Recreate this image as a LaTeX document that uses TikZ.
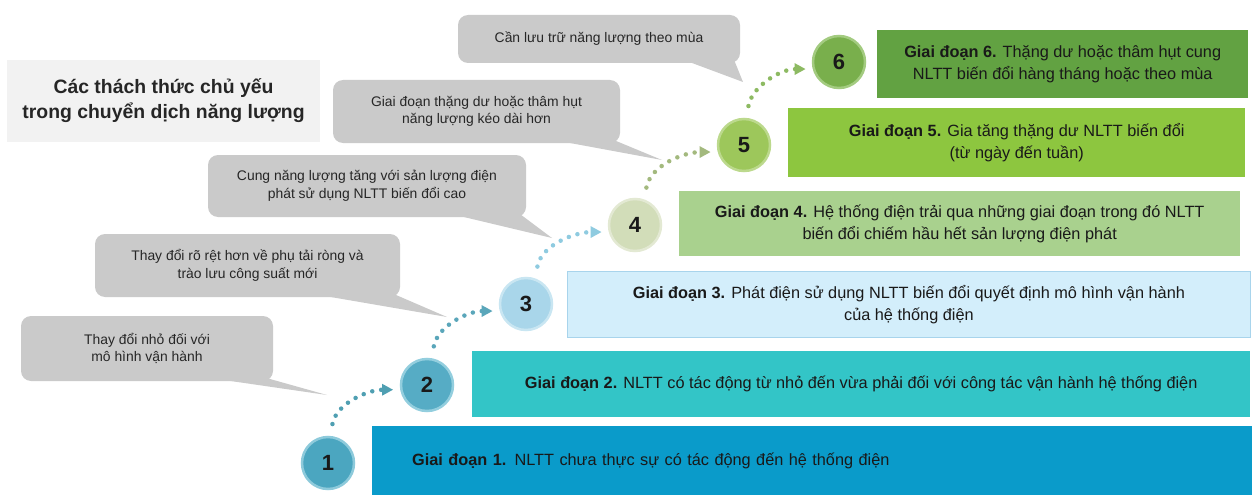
\documentclass[tikz,border=0pt]{standalone}
\usepackage{fontspec}
\setmainfont{Liberation Sans}
\usetikzlibrary{positioning,arrows.meta}

\definecolor{calloutgray}{HTML}{CACACA}
\definecolor{titlegray}{HTML}{F2F2F2}
\definecolor{stageone}{HTML}{0A9BCA}
\definecolor{stagetwo}{HTML}{33C5C7}
\definecolor{stagethree}{HTML}{D3EEFB}
\definecolor{stagethreeline}{HTML}{A8D4EC}
\definecolor{stagefour}{HTML}{A9D18E}
\definecolor{stagefive}{HTML}{8DC63F}
\definecolor{stagesix}{HTML}{62A242}
\definecolor{numone}{HTML}{4BA6C0}   \definecolor{ringone}{HTML}{8DCADB}
\definecolor{numtwo}{HTML}{56ACC5}   \definecolor{ringtwo}{HTML}{93CEDE}
\definecolor{numthree}{HTML}{A9D6EA} \definecolor{ringthree}{HTML}{C9E6F2}
\definecolor{numfour}{HTML}{D2DDB9}  \definecolor{ringfour}{HTML}{E3E9D3}
\definecolor{numfive}{HTML}{9DC75B}  \definecolor{ringfive}{HTML}{BCD98D}
\definecolor{numsix}{HTML}{79AF4C}   \definecolor{ringsix}{HTML}{A3CB80}
\definecolor{dotone}{HTML}{4F9FB2}
\definecolor{dottwo}{HTML}{5AA6BA}
\definecolor{dotthree}{HTML}{8FCBE0}
\definecolor{dotfour}{HTML}{A3B97E}
\definecolor{dotfive}{HTML}{8DBA62}

\tikzset{
  bar/.style={anchor=north west, inner sep=0pt, align=center, text=black!90,
              font=\fontsize{16.3}{22}\selectfont},
  callout/.style={fill=calloutgray, rounded corners=10pt, align=center, inner sep=0pt,
                  text=black!85, font=\fontsize{13.9}{17.5}\selectfont},
  num/.style={circle, draw, minimum size=52pt, line width=2.5pt, inner sep=0pt,
              text=black!90, font=\fontsize{22}{22}\selectfont\bfseries},
  dotarrow/.style={line width=4.5pt, line cap=round, dash pattern=on 0pt off 9pt,
                   shorten <=12pt, shorten >=7pt, -{Triangle[length=11pt,width=11pt]}},
}

\begin{document}
\begin{tikzpicture}[x=1pt, y=-1pt]
  \useasboundingbox (0,0) rectangle (1256,495);

  \node[fill=titlegray, minimum width=313pt, minimum height=82pt, align=center,
        font=\fontsize{19.4}{25}\selectfont\bfseries, text=black!85] (title) at (163.5,101)
        {Các thách thức chủ yếu\\trong chuyển dịch năng lượng};

  \node[bar, fill=stageone, minimum width=880pt, minimum height=69pt, text width=800pt, align=left]
        (s1) at (372,426) {\textbf{Giai đoạn 1.} NLTT chưa thực sự có tác động đến hệ thống điện};
  \node[bar, fill=stagetwo, minimum width=778pt, minimum height=66pt] (s2) at (472,351)
        {\textbf{Giai đoạn 2.} NLTT có tác động từ nhỏ đến vừa phải đối với công tác vận hành hệ thống điện};
  \node[bar, fill=stagethree, draw=stagethreeline, line width=0.8pt, minimum width=683pt, minimum height=66pt]
        (s3) at (567,271) {\textbf{Giai đoạn 3.} Phát điện sử dụng NLTT biến đổi quyết định mô hình vận hành\\của hệ thống điện};
  \node[bar, fill=stagefour, minimum width=561pt, minimum height=65pt] (s4) at (679,191)
        {\textbf{Giai đoạn 4.} Hệ thống điện trải qua những giai đoạn trong đó NLTT\\biến đổi chiếm hầu hết sản lượng điện phát};
  \node[bar, fill=stagefive, minimum width=457pt, minimum height=69pt] (s5) at (788,108)
        {\textbf{Giai đoạn 5.} Gia tăng thặng dư NLTT biến đổi\\(từ ngày đến tuần)};
  \node[bar, fill=stagesix, minimum width=371pt, minimum height=68pt] (s6) at (877,30)
        {\textbf{Giai đoạn 6.} Thặng dư hoặc thâm hụt cung\\NLTT biến đổi hàng tháng hoặc theo mùa};

  \node[num, fill=numone, draw=ringone] (c1) at (328,463) {1};
  \node[num, fill=numtwo, draw=ringtwo] (c2) at (427,385) {2};
  \node[num, fill=numthree, draw=ringthree] (c3) at (526,304) {3};
  \node[num, fill=numfour, draw=ringfour] (c4) at (635,225) {4};
  \node[num, fill=numfive, draw=ringfive] (c5) at (744,145) {5};
  \node[num, fill=numsix, draw=ringsix] (c6) at (839,62) {6};

  \draw[dotarrow, color=dotone] (c1.85) to[out=80, in=180] (c2.190);
  \draw[dotarrow, color=dottwo] (c2.80) to[out=80, in=180] (c3.195);
  \draw[dotarrow, color=dotthree] (c3.70) to[out=80, in=180] (c4.195);
  \draw[dotarrow, color=dotfour] (c4.70) to[out=80, in=180] (c5.195);
  \draw[dotarrow, color=dotfive] (c5.85) to[out=80, in=180] (c6.195);

  \node[callout, minimum width=252pt, minimum height=65pt] (b2) at (147,348.5)
        {Thay đổi nhỏ đối với\\mô hình vận hành};
  \node[callout, minimum width=305pt, minimum height=63pt] (b3) at (247.5,265.5)
        {Thay đổi rõ rệt hơn về phụ tải ròng và\\trào lưu công suất mới};
  \node[callout, minimum width=318pt, minimum height=62pt] (b4) at (367,186)
        {Cung năng lượng tăng với sản lượng điện\\phát sử dụng NLTT biến đổi cao};
  \node[callout, minimum width=287pt, minimum height=63pt] (b5) at (476.5,111.5)
        {Giai đoạn thặng dư hoặc thâm hụt\\năng lượng kéo dài hơn};
  \node[callout, minimum width=282pt, minimum height=48pt] (b6) at (599,39)
        {Cần lưu trữ năng lượng theo mùa};

  \coordinate (t2) at (327,395);
  \coordinate (t3) at (447,317);
  \coordinate (t4) at (552,238);
  \coordinate (t5) at (662,160);
  \coordinate (t6) at (743,82);
  \fill[calloutgray] ([xshift=-55pt, yshift=2pt]b2.south east) -- (t2) -- ([xshift=-6pt, yshift=3pt]b2.south east) -- cycle;
  \fill[calloutgray] ([xshift=-80pt, yshift=2pt]b3.south east) -- (t3) -- ([xshift=-6pt, yshift=3pt]b3.south east) -- cycle;
  \fill[calloutgray] ([xshift=-70pt, yshift=2pt]b4.south east) -- (t4) -- ([xshift=-6pt, yshift=3pt]b4.south east) -- cycle;
  \fill[calloutgray] ([xshift=-60pt, yshift=2pt]b5.south east) -- (t5) -- ([xshift=-6pt, yshift=3pt]b5.south east) -- cycle;
  \fill[calloutgray] ([xshift=-53pt, yshift=2pt]b6.south east) -- (t6) -- ([xshift=-6pt, yshift=3pt]b6.south east) -- cycle;
\end{tikzpicture}
\end{document}
